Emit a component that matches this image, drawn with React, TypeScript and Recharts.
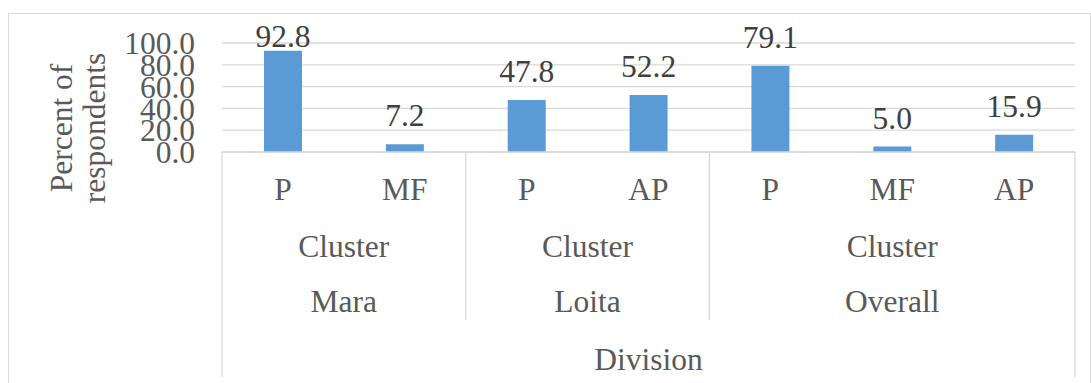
import { Bar, BarChart, CartesianGrid, LabelList, XAxis, YAxis } from "recharts";

const codes = ["P", "MF", "P", "AP", "P", "MF", "AP"];
const divisions = ["Mara", "Mara", "Loita", "Loita", "Overall", "Overall", "Overall"];
const percents = [92.8, 7.2, 47.8, 52.2, 79.1, 5.0, 15.9];
const yTicks = [0, 20, 40, 60, 80, 100];
const clusterLabel = "Cluster";
const divisionLabel = "Division";

const data = codes.map((code, i) => ({
  code,
  division: divisions[i],
  percent: percents[i],
}));

const FONT = "'Liberation Serif', 'Times New Roman', serif";
const FONT_SIZE = 31.5;
const AXIS_TEXT = "#595959";
const LABEL_TEXT = "#404040";
const RULE = "#d9d9d9";
const BAR = "#5b9bd5";

// multi-level category axis: code, "Cluster", division name, then "Division"
function CategoryTick(props: any) {
  const { x, y, index, payload } = props;
  const half = payload?.offset ?? 853 / 14;
  const div = divisions[index];
  const isFirst = index === 0 || divisions[index - 1] !== div;
  const isLast = index === codes.length - 1;
  const size = divisions.filter((d) => d === div).length;
  const groupCenter = x + (size - 1) * half;
  const textProps = {
    fill: AXIS_TEXT,
    style: { fontFamily: FONT, fontSize: FONT_SIZE },
    textAnchor: "middle" as const,
  };

  return (
    <g>
      <text x={x} y={y + 48} {...textProps}>
        {payload.value}
      </text>
      {isFirst && (
        <>
          <text x={groupCenter} y={y + 105} {...textProps}>
            {clusterLabel}
          </text>
          <text x={groupCenter} y={y + 160} {...textProps}>
            {div}
          </text>
          <line
            x1={x - half}
            x2={x - half}
            y1={y}
            y2={y + (index === 0 ? 225 : 168)}
            stroke={RULE}
            strokeWidth={1.3}
          />
        </>
      )}
      {index === 0 && (
        <text x={x + (codes.length - 1) * half} y={y + 218} {...textProps}>
          {divisionLabel}
        </text>
      )}
      {isLast && (
        <line
          x1={x + half}
          x2={x + half}
          y1={y}
          y2={y + 225}
          stroke={RULE}
          strokeWidth={1.3}
        />
      )}
    </g>
  );
}

function ValueTick(props: any) {
  const { x, y, payload } = props;
  return (
    <text
      x={x}
      y={y}
      dy="0.355em"
      fill={AXIS_TEXT}
      style={{ fontFamily: FONT, fontSize: FONT_SIZE }}
      textAnchor="end"
    >
      {Number(payload.value).toFixed(1)}
    </text>
  );
}

// labels sit above the bar, but never above the top of the chart frame
function ValueLabel(props: any) {
  const { x, y, width, value } = props;
  return (
    <text
      x={x + width / 2}
      y={Math.max(y - 18, 47)}
      fill={LABEL_TEXT}
      style={{ fontFamily: FONT, fontSize: FONT_SIZE }}
      textAnchor="middle"
    >
      {Number(value).toFixed(1)}
    </text>
  );
}

function AxisTitle() {
  return (
    <text
      transform="translate(72, 128) rotate(-90)"
      fill={AXIS_TEXT}
      style={{ fontFamily: FONT, fontSize: FONT_SIZE }}
      textAnchor="middle"
    >
      <tspan x={0} y={0}>
        Percent of
      </tspan>
      <tspan x={0} y={33}>
        respondents
      </tspan>
    </text>
  );
}

export default function App() {
  return (
    <div
      style={{
        position: "absolute",
        left: 0,
        top: 0,
        width: 1091,
        height: 383,
        overflow: "hidden",
        background: "#fff",
      }}
    >
      <div
        style={{
          position: "absolute",
          left: 8,
          top: 13,
          width: 1083,
          height: 420,
          boxSizing: "border-box",
          border: `1px solid ${RULE}`,
        }}
      />
      <div style={{ position: "absolute", left: 0, top: 0 }}>
        <BarChart
          width={1091}
          height={383}
          data={data}
          margin={{ top: 43, right: 16, bottom: 0, left: 0 }}
        >
          <CartesianGrid stroke={RULE} strokeWidth={1.3} vertical={false} />
          <XAxis
            dataKey="code"
            height={231}
            interval={0}
            tickSize={0}
            tickMargin={0}
            tickLine={false}
            axisLine={{ stroke: RULE, strokeWidth: 1.3 }}
            tick={<CategoryTick />}
          />
          <YAxis
            width={222}
            domain={[0, 100]}
            ticks={yTicks}
            interval={0}
            tickLine={false}
            axisLine={false}
            tickSize={6}
            tickMargin={21}
            tick={<ValueTick />}
            label={<AxisTitle />}
          />
          <Bar dataKey="percent" fill={BAR} barSize={38} isAnimationActive={false}>
            <LabelList dataKey="percent" content={<ValueLabel />} />
          </Bar>
        </BarChart>
      </div>
    </div>
  );
}
